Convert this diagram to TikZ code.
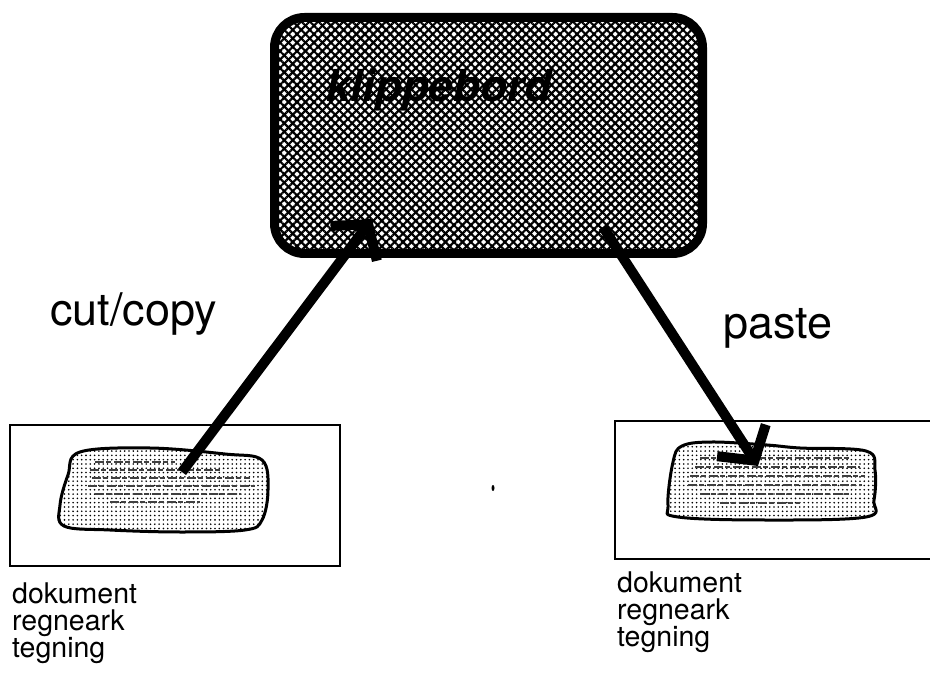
\documentclass[tikz,border=0pt]{standalone}
\usepackage{fontspec}
\setmainfont{TeX Gyre Heros}
\usetikzlibrary{arrows.meta,patterns.meta}
\tikzset{
  clipbox/.style={draw, line width=9pt, rounded corners=30pt, inner sep=0pt,
    minimum width=428pt, minimum height=236pt,
    preaction={pattern={Lines[angle=45,distance=6pt,line width=2.2pt]}},
    pattern={Lines[angle=-45,distance=6pt,line width=2.2pt]}},
  docbox/.style={draw, line width=1.8pt},
  blob/.style={draw, line width=3pt, pattern={Dots[radius=0.9pt,distance=4.3pt]}},
  scribble/.style={black!75, line width=1.3pt, dash pattern=on 9pt off 2pt on 5pt off 3pt},
  bigtext/.style={anchor=base west, inner sep=0pt, font=\fontsize{45}{50}\selectfont},
  linetext/.style={anchor=base west, inner sep=0pt, text height=18pt, text depth=4pt,
    font=\fontsize{28.5}{28.5}\selectfont},
  flow/.style={line width=10pt, -{Straight Barb[length=24pt,width=58pt,line width=10pt]}}
}
\begin{document}
\begin{tikzpicture}[x=1pt,y=-1pt]
\useasboundingbox (0,0) rectangle (930,679);
% clipboard
\node[clipbox] (clip) at (488.5,135.5) {};
\node[anchor=base west, inner sep=0pt, font=\fontsize{44}{50}\selectfont\bfseries\itshape] (cliplabel) at (326,102) {klippebord};
% document boxes
\draw[docbox] (10,425) rectangle (340,566);
\draw[docbox] (935,421) -- (615,421) -- (615,559) -- (935,559);
% blobs
\draw[blob] plot[smooth cycle, tension=0.6] coordinates {(80,452) (150,448) (225,454) (262,460) (268,490) (262,520) (245,530) (180,532) (110,530) (64,526) (60,505) (68,475)};
\draw[blob] plot[smooth cycle, tension=0.6] coordinates {(682,446) (712,442) (767,445) (800,448) (866,451) (875,470) (874,500) (866,517) (767,520) (678,517) (668,505) (673,462)};
% scribbled text in blobs
\foreach \yy/\xa/\xb in {462/95/175, 470/90/220, 478/92/250, 486/88/255, 494/95/240, 502/110/200}
  \draw[scribble] (\xa,\yy) -- (\xb,\yy);
\foreach \yy/\xa/\xb in {458/700/850, 467/695/860, 476/690/865, 485/688/862, 494/700/850, 503/720/800}
  \draw[scribble] (\xa,\yy) -- (\xb,\yy);
% connectors
\coordinate (cutfrom) at (182,472);
\coordinate (cutto) at (372,219);
\coordinate (pastefrom) at (603,227);
\coordinate (pasteto) at (758,466);
\draw[flow] (cutfrom) -- (cutto);
\draw[flow] (pastefrom) -- (pasteto);
% labels
\node[bigtext] (cutlabel) at (50,326) {cut/copy};
\node[bigtext] (pastelabel) at (723,339) {paste};
\node[linetext] (l1) at (12,603) {dokument};
\node[linetext] (l2) at (12,630) {regneark};
\node[linetext] (l3) at (12,657) {tegning};
\node[linetext] (r1) at (617,592) {dokument};
\node[linetext] (r2) at (617,619) {regneark};
\node[linetext] (r3) at (617,646) {tegning};
% stray dot
\fill (493,488) ellipse (1.5 and 3);
\end{tikzpicture}
\end{document}
